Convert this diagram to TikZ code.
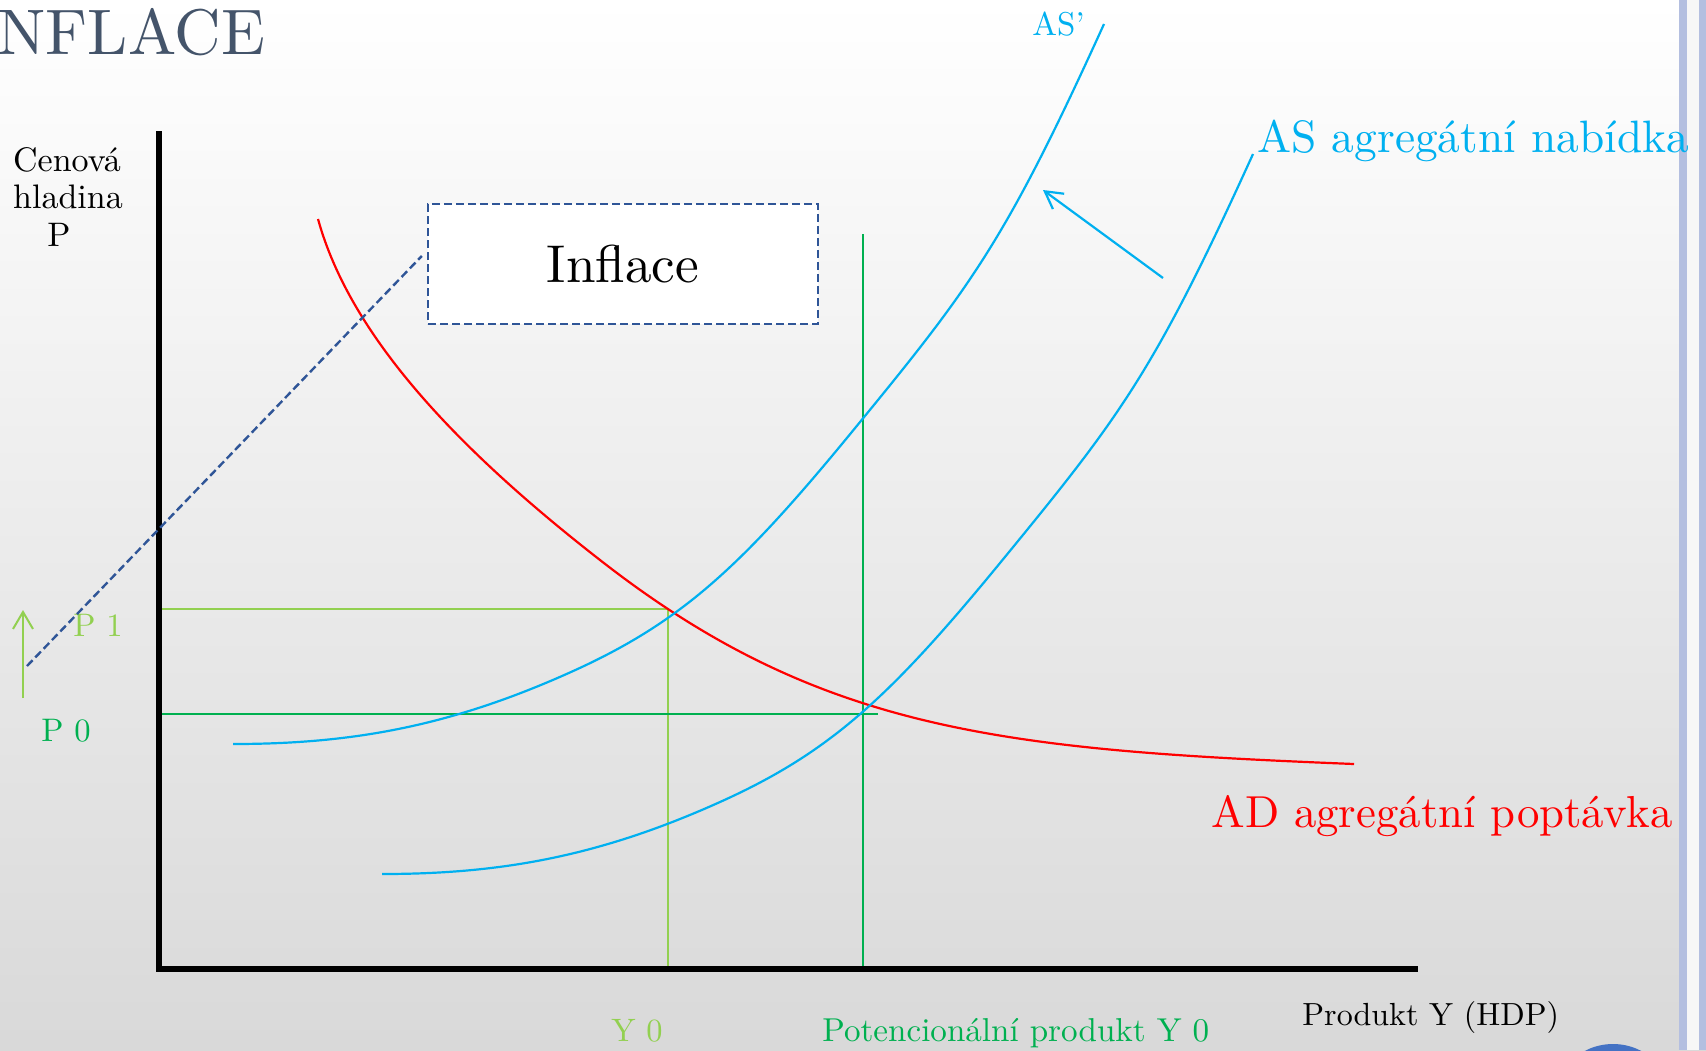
\documentclass[tikz,border=0pt]{standalone}
\usepackage{fontspec}
\setmainfont{lmroman10-regular.otf}
\usetikzlibrary{arrows.meta}
\definecolor{ascol}{HTML}{00B0F0}
\definecolor{adcol}{HTML}{FF0000}
\definecolor{lgreen}{HTML}{92D050}
\definecolor{dgreen}{HTML}{00B050}
\definecolor{dashblue}{HTML}{2F5597}
\definecolor{titlecol}{HTML}{44546A}
\definecolor{barcol}{HTML}{B4BFE0}
\definecolor{dotcol}{HTML}{4472C4}
\newcommand\myaspath{(382,874) .. controls (502,874) and (600,856) .. (720,802)
  .. controls (830,752.5) and (890,697) .. (1000,563)
  .. controls (1120,416.6) and (1153,374) .. (1253,154)}
\begin{document}
\begin{tikzpicture}[x=0.5pt,y=-0.5pt,
  lbl/.style={inner sep=0pt, anchor=base west},
  curve/.style={line width=1.1pt, line join=round},
  glline/.style={line width=1pt},
  dashline/.style={draw=dashblue, line width=1.2pt, dash pattern=on 4pt off 2pt}]
\useasboundingbox (0,0) rectangle (1706,1050);
\shade[top color=white, middle color=white!96!black, bottom color=white!85!black] (0,0) rectangle (1706,1050);
% right edge bars
\fill[barcol] (1679,0) rectangle (1687,1050);
\fill[white!97!black] (1687,0) rectangle (1699,1050);
\fill[barcol] (1699,0) rectangle (1706,1050);
\fill[dotcol] (1613,1105) circle (61);
% title
\node[lbl, text=titlecol, font=\fontsize{32.2}{38}\selectfont] (title) at (-3,54) {NFLACE};
% axis labels
\node[inner sep=0pt, anchor=base, font=\fontsize{17}{20}\selectfont] (yl1) at (67,171) {Cenová};
\node[inner sep=0pt, anchor=base, font=\fontsize{17}{20}\selectfont] (yl2) at (68,208) {hladina};
\node[inner sep=0pt, anchor=base, font=\fontsize{17}{20}\selectfont] (yl3) at (59,246) {P};
\node[lbl, font=\fontsize{16}{19}\selectfont] (xl) at (1302,1025) {Produkt Y (HDP)};
% guide lines
\coordinate (p1a) at (159,609);
\coordinate (e1) at (668,609);
\coordinate (y0b) at (668,968);
\coordinate (p0a) at (159,714);
\coordinate (p0b) at (878,714);
\coordinate (pt) at (863,234);
\coordinate (pb) at (863,968);
\draw[lgreen, glline] (p1a) -- (e1) -- (y0b);
\draw[dgreen, glline] (p0a) -- (p0b);
\draw[dgreen, glline] (pt) -- (pb);
% AD curve
\draw[adcol, curve] (318,219) .. controls (350,335) and (455,447) .. (600,560)
  .. controls (820,732) and (1004,750) .. (1354,764);
% AS curve
\draw[ascol, curve] \myaspath;
% AS' curve (AS shifted)
\begin{scope}[shift={(-149,-130)}]
\draw[ascol, curve] \myaspath;
\end{scope}
% shift arrow
\coordinate (sa) at (1163,278);
\coordinate (sb) at (1043,190);
\draw[ascol, line width=1.1pt, -{Straight Barb[length=8.5pt,width=9.5pt]}] (sa) -- (sb);
% axes
\draw[line width=2.6pt] (159,131) -- (159,969) -- (1418,969);
% labels
\node[lbl, text=ascol, font=\fontsize{22.7}{27}\selectfont] (asl) at (1257,152) {AS agregátní nabídka};
\node[lbl, text=ascol, font=\fontsize{16.5}{19}\selectfont] (aspl) at (1032,35) {AS’};
\node[lbl, text=adcol, font=\fontsize{22.4}{27}\selectfont] (adl) at (1211,827) {AD agregátní poptávka};
\node[lbl, text=lgreen, font=\fontsize{16.3}{19}\selectfont] (p1l) at (73,636) {P 1};
\node[lbl, text=dgreen, font=\fontsize{16.3}{19}\selectfont] (p0l) at (41,741) {P 0};
\node[lbl, text=lgreen, font=\fontsize{16.2}{19}\selectfont] (y0l) at (611,1041) {Y 0};
\node[lbl, text=dgreen, font=\fontsize{16.55}{19}\selectfont] (potl) at (822,1041) {Potencionální produkt Y 0};
% inflation arrow
\coordinate (ga) at (23,698);
\coordinate (gb) at (23,610);
\draw[lgreen, line width=1pt, -{Straight Barb[length=8.5pt,width=10pt]}] (ga) -- (gb);
% Inflace box
\node[draw=dashblue, fill=white, line width=1.2pt, dash pattern=on 4pt off 2pt, minimum width=195pt, minimum height=60pt, inner sep=0pt, font=\fontsize{26.6}{32}\selectfont] (infl) at (623,264) {Inflace};
\coordinate (ds) at (27,666);
\draw[dashline] (ds) -- ([shift={(-5,-8)}]infl.west);
\end{tikzpicture}
\end{document}
